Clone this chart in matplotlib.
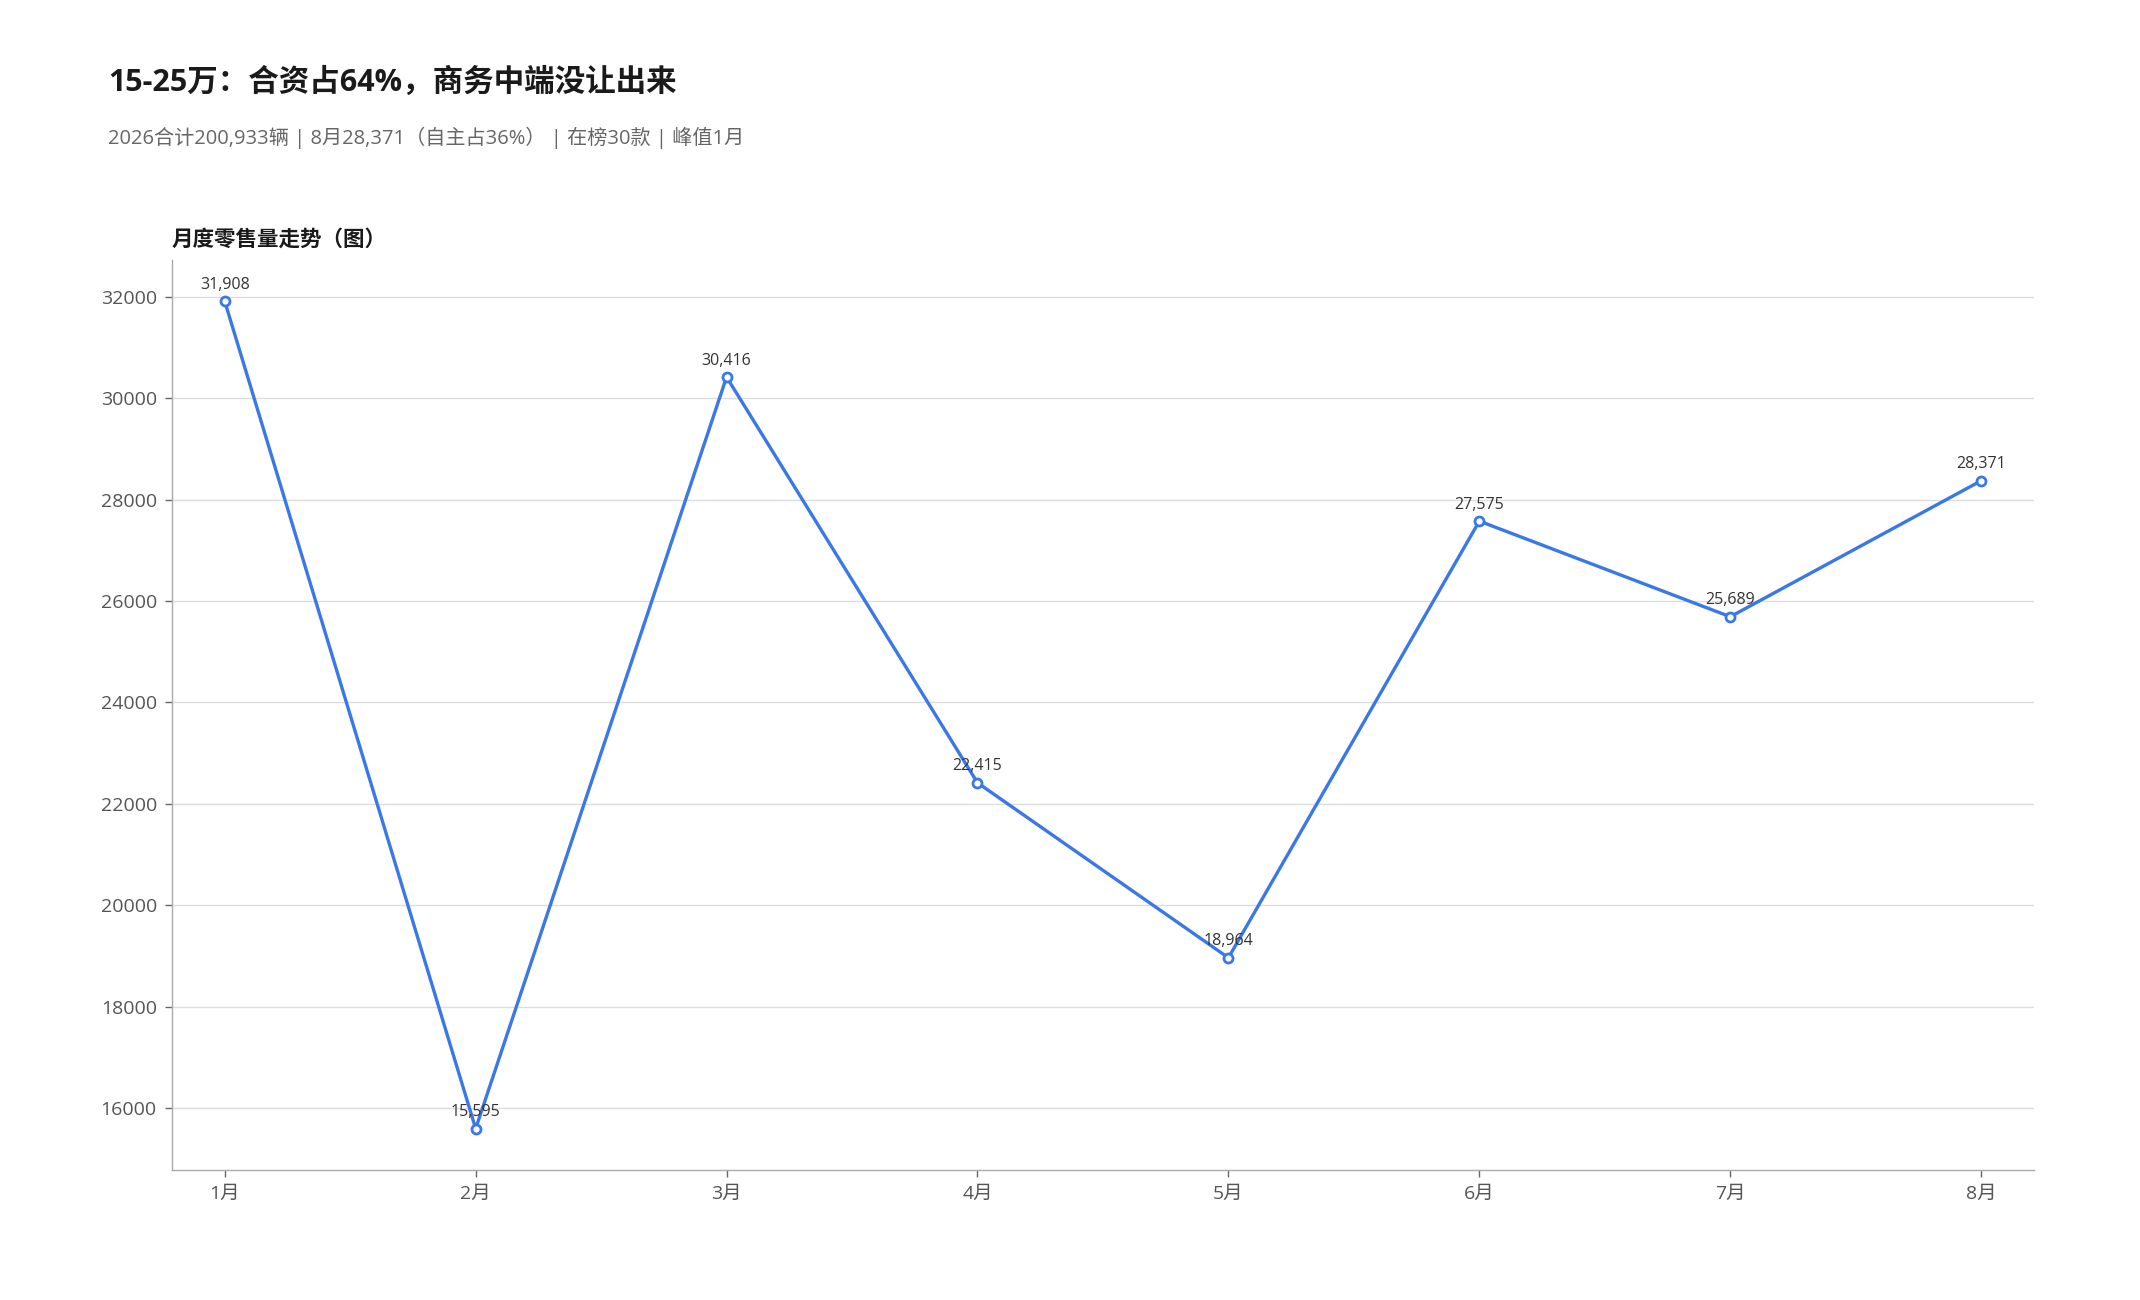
import matplotlib
matplotlib.use("Agg")
import matplotlib.pyplot as plt

plt.rcParams['font.family'] = ['Open Sans', 'Noto Sans CJK SC', 'DejaVu Sans']

months = ["1月", "2月", "3月", "4月", "5月", "6月", "7月", "8月"]
sales = [31908, 15595, 30416, 22415, 18964, 27575, 25689, 28371]
yticks = [16000, 18000, 20000, 22000, 24000, 26000, 28000, 30000, 32000]

title = "15-25万：合资占64%，商务中端没让出来"
subtitle = "2026合计200,933辆 | 8月28,371（自主占36%） | 在榜30款 | 峰值1月"
chart_title = "月度零售量走势（图）"

blue = "#3b78e7"

fig = plt.figure(figsize=(21.4, 13), dpi=100)
ax = fig.add_axes([0.0804, 0.1, 0.87, 0.7])

x = list(range(len(months)))
ax.plot(x, sales, color=blue, lw=2.4, marker="o", ms=6.5,
        mfc="white", mec=blue, mew=2, zorder=3)
for xi, v in zip(x, sales):
    ax.annotate(f"{v:,}", (xi, v), xytext=(0, 6), textcoords="offset points",
                ha="center", va="bottom", fontsize=11.5, color="#333333")

ax.set_xticks(x)
ax.set_xticklabels(months)
ax.set_yticks(yticks)
ax.set_xlim(-0.21, 7.21)
ax.margins(y=0.05)
ax.grid(axis="y", color="#dddddd", lw=1)
ax.set_axisbelow(True)
for s in ["top", "right"]:
    ax.spines[s].set_visible(False)
for s in ["left", "bottom"]:
    ax.spines[s].set_color("#aaaaaa")
    ax.spines[s].set_linewidth(1)
ax.tick_params(axis="both", labelsize=14, colors="#555555", length=5,
               width=1, pad=6)
ax.tick_params(axis="both", color="#666666")

fig.text(0.0505, 0.936, title, fontsize=22, fontweight="bold", color="#1a1a1a",
         va="center", ha="left")
fig.text(0.0505, 0.894, subtitle, fontsize=14.5, color="#666666",
         va="center", ha="left")
fig.text(0.08, 0.815, chart_title, fontsize=15.5, fontweight="bold",
         color="#1a1a1a", va="center", ha="left")

fig.savefig("out.png", dpi=100, facecolor="white")
